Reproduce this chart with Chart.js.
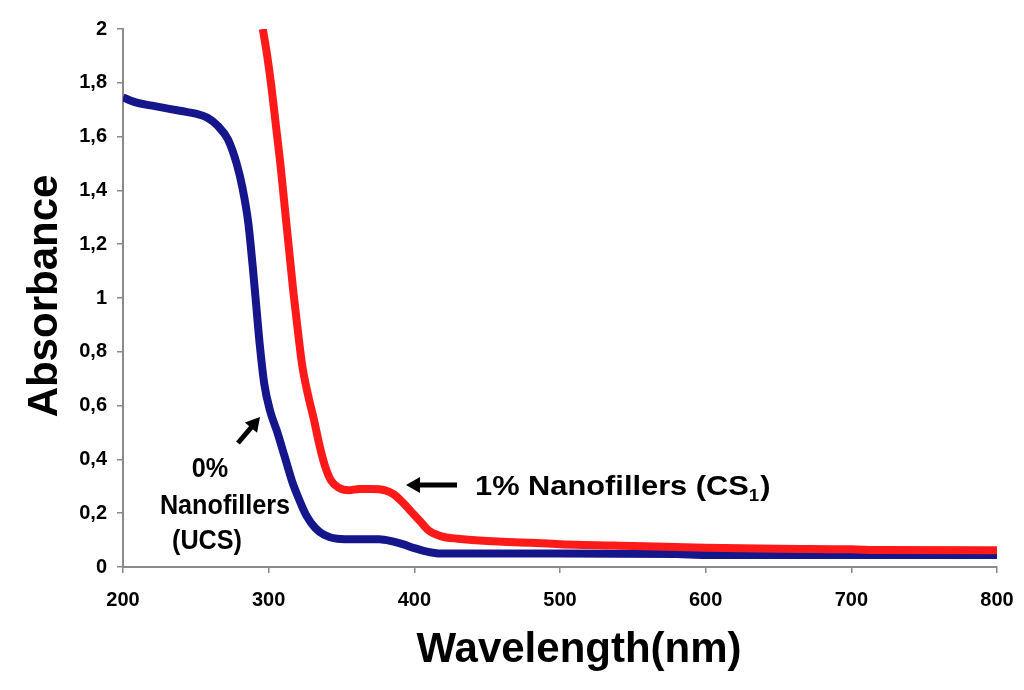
<!DOCTYPE html>
<html>
<head>
<meta charset="utf-8">
<script src="https://cdn.jsdelivr.net/npm/chart.js@4.4.1/dist/chart.umd.min.js"></script>
<style>
  html, body { margin: 0; padding: 0; background: #fff; }
  #wrap { width: 1024px; height: 690px; }
</style>
</head>
<body>
<div id="wrap"><canvas id="uvChart"></canvas></div>
<script>
// wavelength (nm) / absorbance
const ucsWl = [200, 210, 220, 230, 240, 250, 258, 265, 272, 278, 282, 286, 289, 291, 294, 297, 301, 306, 311, 316, 321, 326, 332, 338, 347, 360, 376, 385, 392, 400, 408, 418, 450, 500, 580, 600, 700, 800];
const ucsAbs = [1.745, 1.725, 1.715, 1.705, 1.695, 1.685, 1.67, 1.64, 1.59, 1.50, 1.41, 1.28, 1.12, 1.00, 0.82, 0.68, 0.58, 0.50, 0.41, 0.32, 0.25, 0.19, 0.145, 0.12, 0.105, 0.103, 0.103, 0.095, 0.085, 0.07, 0.058, 0.05, 0.05, 0.05, 0.048, 0.045, 0.045, 0.045];

const cs1Wl = [296, 299, 302, 305, 308, 311, 314, 317, 320, 323, 327, 331, 335, 339, 343, 348, 355, 362, 370, 380, 386, 392, 398, 404, 410, 418, 430, 450, 480, 500, 550, 600, 650, 700, 720, 800];
const cs1Abs = [2.00, 1.90, 1.78, 1.64, 1.50, 1.34, 1.18, 1.02, 0.88, 0.75, 0.64, 0.55, 0.45, 0.37, 0.32, 0.295, 0.285, 0.29, 0.29, 0.285, 0.27, 0.24, 0.205, 0.17, 0.135, 0.115, 0.105, 0.097, 0.09, 0.085, 0.078, 0.072, 0.068, 0.066, 0.063, 0.062];

const xTicks = [200, 300, 400, 500, 600, 700, 800];
const yTicks = [0, 0.2, 0.4, 0.6, 0.8, 1, 1.2, 1.4, 1.6, 1.8, 2];

const toPts = (xs, ys) => xs.map((x, i) => ({ x: x, y: ys[i] }));

// comma decimals like the original
const commaFmt = (v) => String(Number(v.toFixed(1))).replace(".", ",");

const FONT = 'Arial, "Liberation Sans", sans-serif';

// text squeezed / stretched sideways like the scanned figure
const stretchText = (ctx, txt, x, y, sx) => {
  ctx.save();
  ctx.translate(x, y);
  ctx.scale(sx, 1);
  ctx.fillText(txt, 0, 0);
  ctx.restore();
  return ctx.measureText(txt).width * sx;
};

// arrow with a filled head at (x2,y2)
const drawArrow = (ctx, x1, y1, x2, y2) => {
  const ang = Math.atan2(y2 - y1, x2 - x1);
  const head = 14;
  ctx.save();
  ctx.strokeStyle = "#000";
  ctx.fillStyle = "#000";
  ctx.lineWidth = 5;
  ctx.beginPath();
  ctx.moveTo(x1, y1);
  ctx.lineTo(x2 - Math.cos(ang) * head * 0.8, y2 - Math.sin(ang) * head * 0.8);
  ctx.stroke();
  ctx.beginPath();
  ctx.moveTo(x2, y2);
  ctx.lineTo(x2 - head * Math.cos(ang) + 8 * Math.sin(ang), y2 - head * Math.sin(ang) - 8 * Math.cos(ang));
  ctx.lineTo(x2 - head * Math.cos(ang) - 8 * Math.sin(ang), y2 - head * Math.sin(ang) + 8 * Math.cos(ang));
  ctx.closePath();
  ctx.fill();
  ctx.restore();
};

// axis titles + the two labels with arrows
const labelsPlugin = {
  id: "labels",
  afterDraw(chart) {
    const ctx = chart.ctx;
    ctx.save();
    ctx.fillStyle = "#000";
    ctx.textBaseline = "middle";
    ctx.textAlign = "center";

    ctx.font = "bold 42px " + FONT;
    ctx.fillText("Wavelength(nm)", 579, 650);
    ctx.save();
    ctx.translate(45, 296);
    ctx.rotate(-Math.PI / 2);
    ctx.fillText("Absorbance", 0, 0);
    ctx.restore();

    ctx.font = "bold 28px " + FONT;
    stretchText(ctx, "0%", 210, 469, 0.9);
    stretchText(ctx, "Nanofillers", 225, 506, 0.9);
    stretchText(ctx, "(UCS)", 207, 541, 0.9);
    drawArrow(ctx, 238, 443, 260, 417);

    drawArrow(ctx, 457, 485, 406, 485);
    ctx.textAlign = "left";
    let x = 475;
    x += stretchText(ctx, "1% Nanofillers (CS", x, 487, 1.1);
    ctx.font = "bold 17px " + FONT;
    x += stretchText(ctx, "1", x, 496, 1.1) + 1;
    ctx.font = "bold 28px " + FONT;
    stretchText(ctx, ")", x, 487, 1.1);
    ctx.restore();
  },
};

new Chart(document.getElementById("uvChart"), {
  type: "line",
  data: {
    datasets: [
      {
        label: "1% Nanofillers (CS1)",
        data: toPts(cs1Wl, cs1Abs),
        borderColor: "#ff1a1a",
        borderWidth: 8,
        pointRadius: 0,
        cubicInterpolationMode: "monotone",
      },
      {
        label: "0% Nanofillers (UCS)",
        data: toPts(ucsWl, ucsAbs),
        borderColor: "#16168c",
        borderWidth: 8,
        pointRadius: 0,
        cubicInterpolationMode: "monotone",
      },
    ],
  },
  options: {
    responsive: true,
    maintainAspectRatio: false,
    animation: false,
    layout: { padding: { top: 29, right: 27, left: 0, bottom: 0 } },
    plugins: { legend: { display: false }, tooltip: { enabled: false } },
    scales: {
      x: {
        type: "linear",
        min: 200,
        max: 800,
        afterFit: (s) => { s.height = 123; s.paddingLeft = 0; s.paddingRight = 0; },
        afterBuildTicks: (s) => { s.ticks = xTicks.map((v) => ({ value: v })); },
        border: { display: true, color: "#8a8a8a", width: 2 },
        grid: { drawOnChartArea: false, color: "#8a8a8a", tickLength: 6, lineWidth: 1.5 },
        ticks: {
          color: "#000",
          font: { family: FONT, size: 20, weight: "bold" },
          padding: 15,
          maxRotation: 0,
        },
      },
      y: {
        min: 0,
        max: 2,
        afterFit: (s) => { s.width = 123; s.paddingTop = 0; s.paddingBottom = 0; },
        afterBuildTicks: (s) => { s.ticks = yTicks.map((v) => ({ value: v })); },
        border: { display: true, color: "#8a8a8a", width: 2 },
        grid: { drawOnChartArea: false, color: "#8a8a8a", tickLength: 6, lineWidth: 1.5 },
        ticks: {
          color: "#000",
          font: { family: FONT, size: 20, weight: "bold" },
          padding: 10,
          callback: (v) => commaFmt(v),
        },
      },
    },
  },
  plugins: [labelsPlugin],
});
</script>
</body>
</html>
